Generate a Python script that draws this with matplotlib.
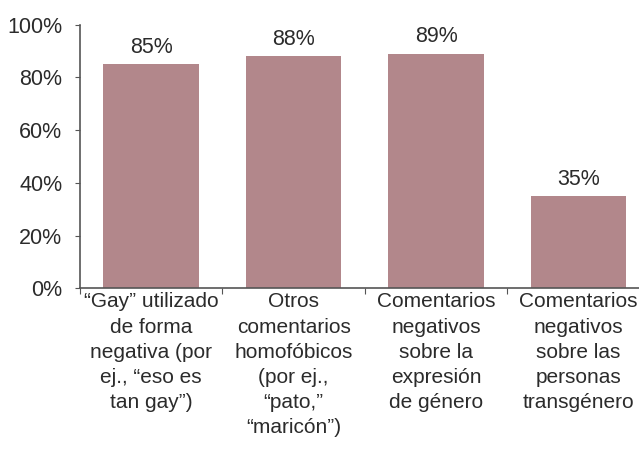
import numpy as np
import matplotlib.pyplot as plt

categories = [
    "“Gay” utilizado\nde forma\nnegativa (por\nej., “eso es\ntan gay”)",
    "Otros\ncomentarios\nhomofóbicos\n(por ej.,\n“pato,”\n“maricón”)",
    "Comentarios\nnegativos\nsobre la\nexpresión\nde género",
    "Comentarios\nnegativos\nsobre las\npersonas\ntransgénero",
]
values = [85, 88, 89, 35]
labels = ["85%", "88%", "89%", "35%"]

plt.rcParams['font.family'] = ['Liberation Sans', 'DejaVu Sans']
fs = 15.5

fig = plt.figure(figsize=(6.39, 4.51), dpi=100)
ax = fig.add_axes([0.125, 0.361, 0.892, 0.584])

x = np.arange(len(values))
bars = ax.bar(x, values, width=0.67, color='#b2878b')
for xi, v, lab in zip(x, values, labels):
    ax.text(xi, v + 2.4, lab, ha='center', va='bottom', fontsize=fs, color='#2b2b2b')

ax.set_xlim(-0.5, len(values) - 0.5)
ax.set_ylim(0, 100)
ax.set_yticks(np.arange(0, 101, 20))
ax.set_yticklabels([f"{t}%" for t in range(0, 101, 20)], fontsize=fs, color='#2b2b2b')

# category labels in the middle, ticks at boundaries
ax.set_xticks(np.arange(-0.5, len(values), 1.0))
ax.set_xticklabels([])
ax.set_xticks(x, minor=True)
ax.set_xticklabels(categories, minor=True, fontsize=15, color='#2b2b2b', linespacing=1.41)
ax.tick_params(axis='x', which='minor', length=0, pad=3)
ax.tick_params(axis='x', which='major', length=4, color='#555555')
ax.tick_params(axis='y', length=3.6, color='#555555', pad=9)

for s in ['top', 'right']:
    ax.spines[s].set_visible(False)
for s in ['left', 'bottom']:
    ax.spines[s].set_color('#555555')
    ax.spines[s].set_linewidth(1.2)

fig.savefig('out.png', dpi=100)
